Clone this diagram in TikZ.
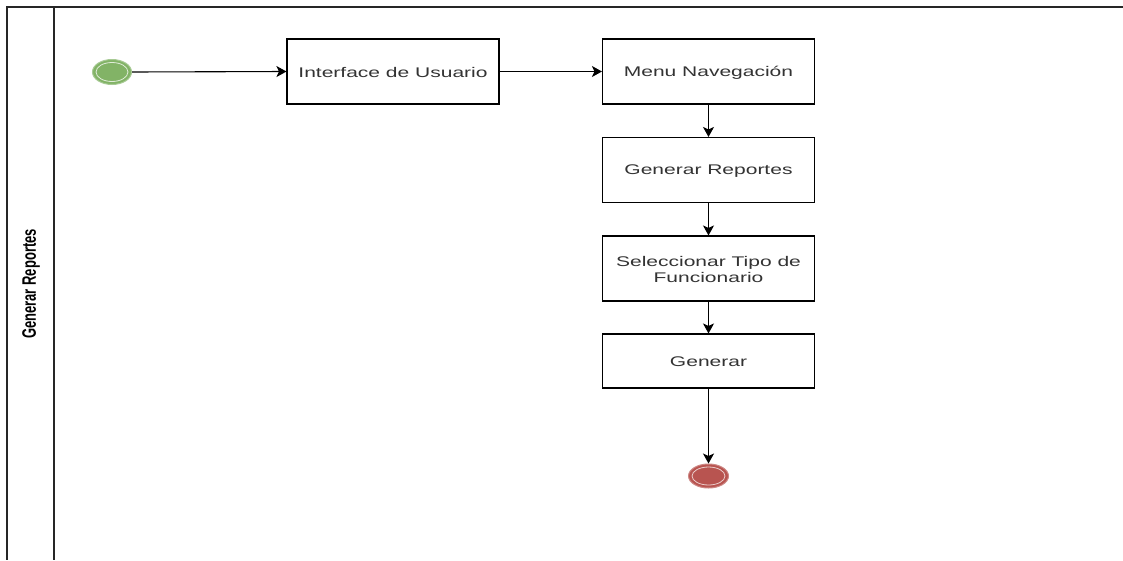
\documentclass[tikz,border=0pt]{standalone}
\usepackage{fontspec}
\setmainfont{Liberation Sans}[FakeStretch=1.5]
\newfontfamily\lanefont{Liberation Sans}
\usetikzlibrary{arrows.meta,shapes.geometric}
\definecolor{startgreen}{HTML}{82B366}
\definecolor{endred}{HTML}{B85450}
\begin{document}
\begin{tikzpicture}[x=1pt,y=-1pt,
  task/.style={draw=black, line width=1.1pt, fill=white, minimum width=212pt, minimum height=65pt,
    font=\fontsize{14}{16}\selectfont, text=black!80, align=center, inner sep=0pt},
  flow/.style={line width=1.1pt, -{Stealth[length=10pt,width=11pt,inset=2.5pt]}},
  evstart/.style={ellipse, minimum width=39pt, minimum height=25pt, inner sep=0pt, fill=startgreen, draw=startgreen!70!white, line width=1pt},
  evend/.style={ellipse, minimum width=40pt, minimum height=24pt, inner sep=0pt, fill=endred, draw=endred!70!white, line width=1pt},
  poolline/.style={line width=1.6pt, draw=black!85}
]
\useasboundingbox (0,0) rectangle (1123,560);
\fill[white] (0,0) rectangle (1123,560);
\draw[poolline] (1123,7) -- (7,7) -- (7,560);
\draw[poolline] (54,7) -- (54,560);
\node (lane) at (31,284) {\scalebox{1.5}[1]{\rotatebox{90}{\lanefont\bfseries\fontsize{13}{15}\selectfont Generar Reportes}}};

\node[evstart] (start) at (112,72) {};
\draw[white!75!startgreen, line width=0.8pt] (112,72) ellipse [x radius=16pt, y radius=9.5pt];

\node[task] (n1) at (393,71.5) {\rule{0pt}{12pt}Interface de Usuario};
\node[task] (n2) at (708.5,71.5) {\rule{0pt}{12pt}Menu Navegación};
\node[task] (n3) at (708.5,170) {\rule{0pt}{12pt}Generar Reportes};
\node[task] (n4) at (708.5,268.5) {\rule{0pt}{12pt}Seleccionar Tipo de\\Funcionario};
\node[task, minimum height=54pt] (n5) at (708.5,361) {\rule{0pt}{12pt}Generar};

\node[evend] (end) at (708.5,476) {};
\draw[white!70!endred, line width=0.8pt] (708.5,476) ellipse [x radius=16.5pt, y radius=9pt];

\draw[flow] (start.east) -- (n1.west);
\draw[flow] (n1.east) -- (n2.west);
\draw[flow] (n2.south) -- (n3.north);
\draw[flow] (n3.south) -- (n4.north);
\draw[flow] (n4.south) -- (n5.north);
\draw[flow] (n5.south) -- (end.north);
\end{tikzpicture}
\end{document}
